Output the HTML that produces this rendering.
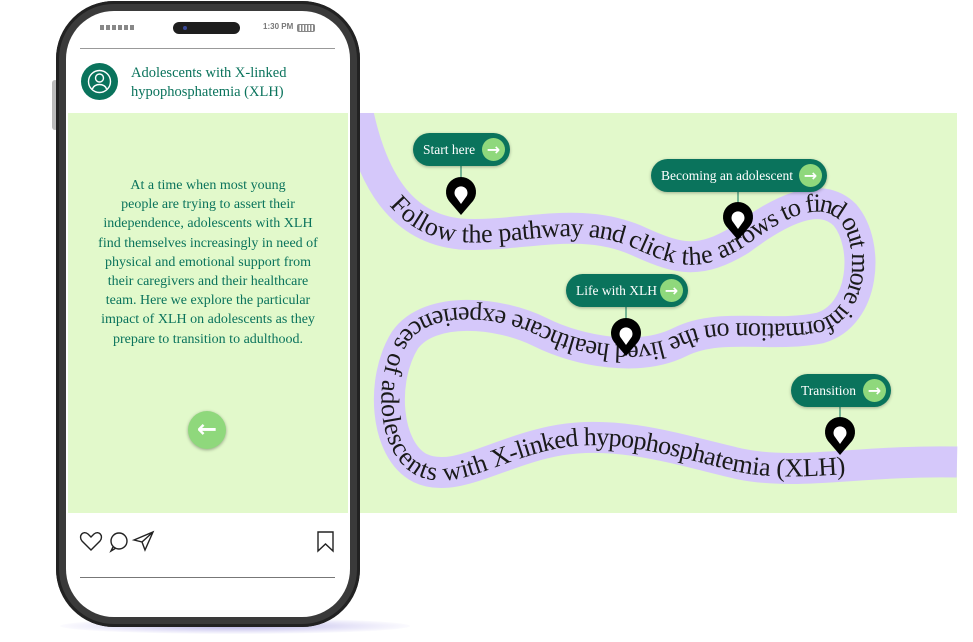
<!DOCTYPE html>
<html><head><style>
body{margin:0;width:973px;height:642px;background:#fff;overflow:hidden;position:relative;font-family:"Liberation Serif",serif}
.abs{position:absolute}
</style></head><body>
<div class="abs" style="left:360px;top:113px;width:597px;height:400px;background:#e2f9cb"></div>
<div class="abs" style="left:60px;top:618px;width:350px;height:16px;border-radius:50%;background:radial-gradient(ellipse,#b9b4e6 0%,rgba(200,195,240,0.4) 50%,rgba(255,255,255,0) 75%)"></div>
<!-- road -->
<svg class="abs" style="left:0;top:0" width="973" height="642">
<defs><path id="rd" d="M358,113 C372,178 400,228 460,234 C520,238 580,214 640,242 C680,260 700,264 740,240 C780,210 820,190 845,215 C870,245 865,315 820,328 C770,338 720,322 680,342 C640,362 580,352 540,332 C500,312 430,305 405,340 C380,380 385,450 420,468 C455,485 500,450 560,440 C620,430 680,450 740,464 C800,476 860,460 957,462"/>
<clipPath id="cp"><rect x="0" y="113" width="973" height="400"/></clipPath></defs>
<use href="#rd" fill="none" stroke="#d5c8fa" stroke-width="31" clip-path="url(#cp)"/>
<text font-family="Liberation Serif,serif" font-size="26" fill="#1a1a1a" dy="8"><textPath href="#rd" startOffset="95" textLength="1620" lengthAdjust="spacing">Follow the pathway and click the arrows to find out more information on the lived healthcare experiences of adolescents with X-linked hypophosphatemia (XLH)</textPath></text>
<g fill="#000">
<g transform="translate(461,195)"><path d="M0 20 L-12 6 A15 15 0 1 1 12 6 Z"/><path d="M0 9 L-5 2 A6.5 6.5 0 1 1 5 2 Z" fill="#fff"/></g>
<g transform="translate(738,220)"><path d="M0 20 L-12 6 A15 15 0 1 1 12 6 Z"/><path d="M0 9 L-5 2 A6.5 6.5 0 1 1 5 2 Z" fill="#fff"/></g>
<g transform="translate(626,336)"><path d="M0 20 L-12 6 A15 15 0 1 1 12 6 Z"/><path d="M0 9 L-5 2 A6.5 6.5 0 1 1 5 2 Z" fill="#fff"/></g>
<g transform="translate(840,435)"><path d="M0 20 L-12 6 A15 15 0 1 1 12 6 Z"/><path d="M0 9 L-5 2 A6.5 6.5 0 1 1 5 2 Z" fill="#fff"/></g>
</g>
<g stroke="#0a735c" stroke-width="1"><line x1="461" y1="166" x2="461" y2="177"/><line x1="738" y1="192" x2="738" y2="202"/><line x1="626" y1="307" x2="626" y2="318"/><line x1="840" y1="407" x2="840" y2="417"/></g>
</svg>
<!-- phone -->
<div class="abs" style="left:52px;top:80px;width:6px;height:50px;background:#bbb;border-radius:3px"></div>
<div class="abs" style="left:56px;top:1px;width:304px;height:626px;border-radius:58px;background:#3a3a3a;box-shadow:inset 0 0 0 3px #222"></div>
<div class="abs" style="left:66px;top:11px;width:284px;height:606px;border-radius:48px;background:#fff;overflow:hidden">
  <div class="abs" style="left:2px;top:102px;width:280px;height:400px;background:#e2f9cb"></div>
</div>
<div class="abs" style="left:100px;top:25px;width:34px;height:5px;background:repeating-linear-gradient(90deg,#888 0 4px,transparent 4px 6px)"></div>
<div class="abs" style="left:173px;top:22px;width:67px;height:12px;border-radius:6px;background:#1e1e1e"></div>
<div class="abs" style="left:183px;top:26px;width:4px;height:4px;border-radius:50%;background:#3a4a9a"></div>
<div class="abs" style="left:263px;top:22px;font:bold 8px 'Liberation Sans',sans-serif;color:#777">1:30 PM</div>
<div class="abs" style="left:297px;top:24px;width:16px;height:6px;border:1px solid #888;border-radius:2px;background:repeating-linear-gradient(90deg,#888 0 1.5px,transparent 1.5px 3px)"></div>
<div class="abs" style="left:80px;top:48px;width:255px;height:1px;background:#999"></div>
<div class="abs" style="left:81px;top:63px;width:37px;height:37px;border-radius:50%;background:#0a735c"></div>
<svg class="abs" style="left:81px;top:63px" width="37" height="37"><circle cx="18.5" cy="18.5" r="11" fill="none" stroke="#fff" stroke-width="1.4"/><circle cx="18.5" cy="15" r="4" fill="none" stroke="#fff" stroke-width="1.4"/><path d="M11.5 26 C13 20,24 20,25.5 26" fill="none" stroke="#fff" stroke-width="1.4"/></svg>
<div class="abs" style="left:131px;top:64px;font-size:14.5px;line-height:19px;color:#0a735c">Adolescents with X-linked<br>hypophosphatemia (XLH)</div>
<div class="abs" style="left:70px;top:176px;width:276px;text-align:center;font-size:14px;line-height:19.2px;color:#0a735c;white-space:nowrap">At a time when most young<br>people are trying to assert their<br>independence, adolescents with XLH<br>find themselves increasingly in need of<br>physical and emotional support from<br>their caregivers and their healthcare<br>team. Here we explore the particular<br>impact of XLH on adolescents as they<br>prepare to transition to adulthood.</div>
<div class="abs" style="left:188px;top:411px;width:38px;height:38px;border-radius:50%;background:#8fd87c;box-shadow:0 1px 3px rgba(0,0,0,.35);color:#fff;font:bold 24px/36px 'DejaVu Sans',sans-serif;text-align:center">←</div>
<svg class="abs" style="left:78px;top:528px" width="270" height="30" fill="none" stroke="#222" stroke-width="1.4">
<path d="M13 22 L4 13 C0 8,5 2,10 6 L13 9 L16 6 C21 2,26 8,22 13 Z"/>
<circle cx="41" cy="13" r="8"/><path d="M35 19 L33 23 L38 20"/>
<path d="M56 12 L75 4 L67 22 L64 14 Z M64 14 L75 4"/>
<path d="M240 4 H255 V23 L247.5 16 L240 23 Z"/>
</svg>
<div class="abs" style="left:80px;top:577px;width:255px;height:1px;background:#777"></div>
<style>.btn{position:absolute;height:33px;border-radius:17px;background:#0a735c;color:#fff;font-size:13.5px;line-height:33px;padding-left:10px;box-shadow:0 1px 3px rgba(0,0,0,.3);box-sizing:border-box}
.btn i{position:absolute;right:5px;top:5px;width:23px;height:23px;border-radius:50%;background:#8fd87c;font:bold 16px/23px 'DejaVu Sans',sans-serif;text-align:center;font-style:normal}</style>
<div class="btn" style="left:413px;top:133px;width:97px">Start here<i>→</i></div>
<div class="btn" style="left:651px;top:159px;width:176px">Becoming an adolescent<i>→</i></div>
<div class="btn" style="left:566px;top:274px;width:122px">Life with XLH<i>→</i></div>
<div class="btn" style="left:791px;top:374px;width:100px">Transition<i>→</i></div>
</body></html>
